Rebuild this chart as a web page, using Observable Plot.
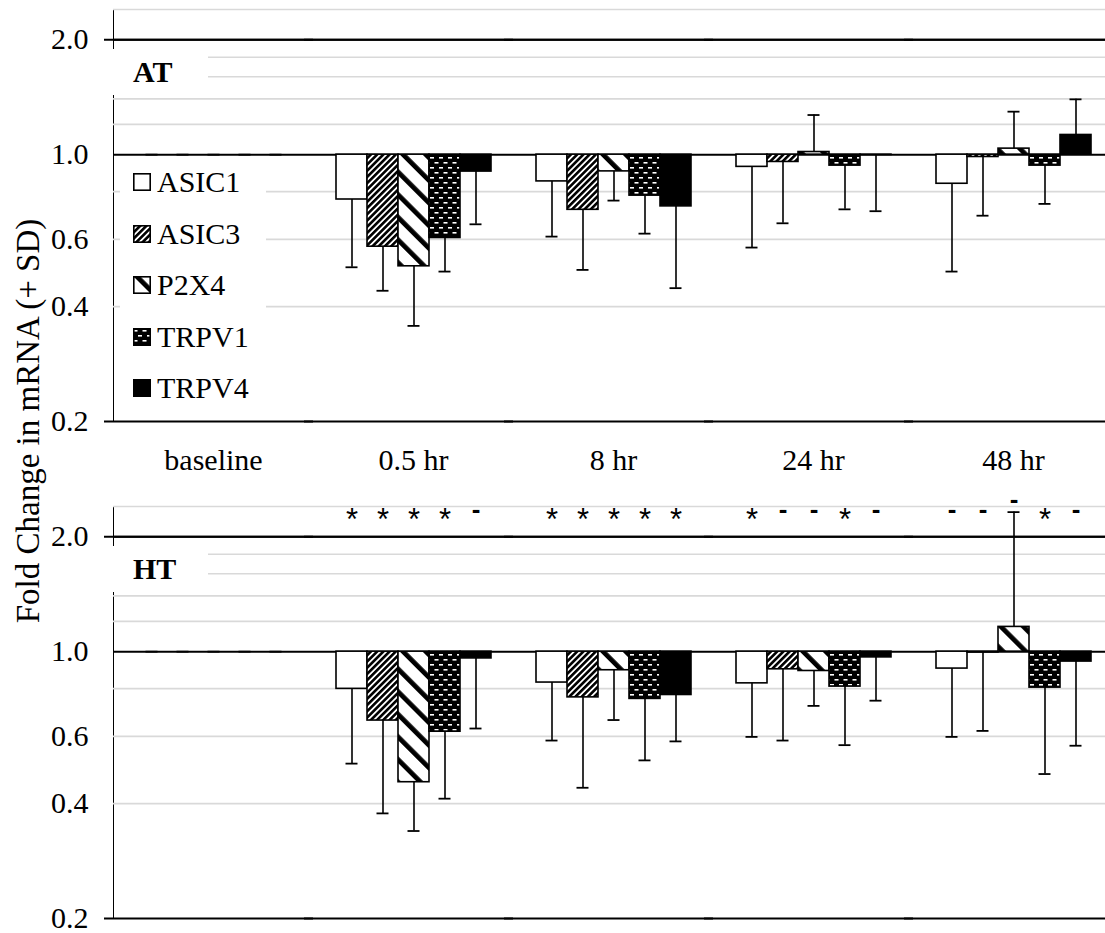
<!DOCTYPE html>
<html><head><meta charset="utf-8">
<script src="https://cdn.jsdelivr.net/npm/d3@7"></script>
<script src="https://cdn.jsdelivr.net/npm/@observablehq/plot@0.6"></script>
<style>
html,body{margin:0;padding:0;background:#fff;overflow:hidden;}
#wrap{position:relative;width:1105px;height:933px;overflow:hidden;font-family:"Liberation Serif","Times New Roman",serif;color:#000;}
.plabel{position:absolute;left:113px;width:95px;height:46px;background:#fff;font-weight:bold;font-size:30px;line-height:46px;padding-left:20px;box-sizing:border-box;}
#legend{position:absolute;left:120px;top:160px;width:146px;height:250px;background:#fff;}
.li{position:absolute;left:13px;height:34px;display:flex;align-items:center;font-size:30px;white-space:nowrap;}
.li svg{margin-right:6px;}
#ytitle{position:absolute;left:28px;top:421px;transform-origin:0 0;transform:rotate(-90deg) translate(-50%,-50%);white-space:nowrap;font-size:33px;line-height:36px;}
</style></head>
<body><div id="wrap"></div>
<script>
// ---------------- data ----------------
const times = ["baseline", "0.5 hr", "8 hr", "24 hr", "48 hr"];
const genes = ["ASIC1", "ASIC3", "P2X4", "TRPV1", "TRPV4"];

// AT panel: mean fold change (rows = times, cols = genes)
const atMean = [
  [1, 1, 1, 1, 1],
  [0.763, 0.574, 0.510, 0.605, 0.903],
  [0.851, 0.717, 0.904, 0.781, 0.732],
  [0.929, 0.957, 1.016, 0.936, 0.998],
  [0.839, 0.986, 1.037, 0.936, 1.126]
];
// AT panel: error bar end (mean +/- SD)
const atErrEnd = [
  [1, 1, 1, 1, 1],
  [0.507, 0.440, 0.356, 0.494, 0.657],
  [0.610, 0.499, 0.758, 0.621, 0.447],
  [0.571, 0.661, 1.270, 0.719, 0.711],
  [0.494, 0.692, 1.296, 0.743, 1.396]
];
// HT panel
const htMean = [
  [1, 1, 1, 1, 1],
  [0.799, 0.660, 0.455, 0.617, 0.960],
  [0.830, 0.759, 0.894, 0.752, 0.770],
  [0.826, 0.899, 0.890, 0.810, 0.966],
  [0.903, 0.995, 1.161, 0.805, 0.942]
];
const htErrEnd = [
  [1, 1, 1, 1, 1],
  [0.509, 0.377, 0.339, 0.412, 0.629],
  [0.585, 0.440, 0.662, 0.519, 0.582],
  [0.598, 0.585, 0.721, 0.569, 0.744],
  [0.598, 0.620, 2.320, 0.478, 0.567]
];
// significance markers above HT panel
const htMarks = [
  ["", "", "", "", ""],
  ["*", "*", "*", "*", "-"],
  ["*", "*", "*", "*", "*"],
  ["*", "-", "-", "*", "-"],
  ["-", "-", "-", "*", "-"]
];
const yTicks = [0.2, 0.4, 0.6, 1.0, 2.0];
const gridValues = [0.4, 0.6, 0.8, 1.2, 1.4, 1.6, 1.8, 2.4];
const axisLines = [1.0, 2.0];
const edgeLines = [0.2, 2.0];
const geneFills = ["white", "url(#pA3)", "url(#pP2)", "url(#pT1)", "black"];
const markerLevel = 2.28;

// ---------------- patterns (global defs) ----------------
const wrap = document.getElementById("wrap");
const defsSvg = d3.create("svg").attr("width", 0).attr("height", 0)
  .style("position", "absolute").style("left", 0).style("top", 0);
const defs = defsSvg.append("defs");
{
  const p = defs.append("pattern").attr("id", "pA3").attr("patternUnits", "userSpaceOnUse")
    .attr("width", 4.4).attr("height", 4.4).attr("patternTransform", "rotate(45)");
  p.append("rect").attr("width", 4.4).attr("height", 4.4).attr("fill", "white");
  p.append("rect").attr("width", 2.6).attr("height", 4.4).attr("fill", "black");
}
{
  const p = defs.append("pattern").attr("id", "pP2").attr("patternUnits", "userSpaceOnUse")
    .attr("width", 16).attr("height", 16).attr("patternTransform", "rotate(-45)");
  p.append("rect").attr("width", 16).attr("height", 16).attr("fill", "white");
  p.append("rect").attr("width", 4.8).attr("height", 16).attr("fill", "black");
}
{
  const p = defs.append("pattern").attr("id", "pT1").attr("patternUnits", "userSpaceOnUse")
    .attr("width", 9).attr("height", 10);
  p.append("rect").attr("width", 9).attr("height", 10).attr("fill", "black");
  p.append("rect").attr("x", 0.5).attr("y", 2).attr("width", 4).attr("height", 1.6).attr("fill", "white");
  p.append("rect").attr("x", 5).attr("y", 7).attr("width", 4).attr("height", 1.6).attr("fill", "white");
}
wrap.appendChild(defsSvg.node());

// ---------------- panels ----------------
function rowsToData(mean, err, marks) {
  const out = [];
  times.forEach((t, i) => genes.forEach((g, j) => out.push({
    time: t, gene: g, value: mean[i][j], err: err[i][j], mark: marks ? marks[i][j] : ""
  })));
  return out;
}

function panel(data, {showX, height, marginBottom, withMarks}) {
  const marks = [
    Plot.ruleY(gridValues, {y: d => d, stroke: "#d9d9d9", strokeWidth: 1.6}),
    Plot.ruleY(edgeLines, {y: d => d, stroke: "black", strokeWidth: 2, insetLeft: -9}),
    Plot.ruleY(axisLines, {y: d => d, stroke: "black", strokeWidth: 2}),
    Plot.barY(data, {fx: "time", x: "gene", y1: 1, y2: "value", fill: "gene", stroke: "black", strokeWidth: 1.6}),
    Plot.ruleX(data, {fx: "time", x: "gene", y1: "value", y2: "err", stroke: "black", strokeWidth: 1.6}),
    Plot.tickY(data, {fx: "time", x: "gene", y: "err", stroke: "black", strokeWidth: 1.8, insetLeft: 9.5, insetRight: 9.5})
  ];
  if (withMarks) {
    const pos = d => d.err > 2 ? d.err * 1.04 : markerLevel;
    marks.push(Plot.text(data.filter(d => d.mark === "*"), {fx: "time", x: "gene", y: pos, text: "mark",
      fontFamily: "'Liberation Sans', Arial, sans-serif", fontSize: 31, dy: 5.4}));
    marks.push(Plot.text(data.filter(d => d.mark === "-"), {fx: "time", x: "gene", y: pos, text: "mark",
      fontFamily: "'Liberation Sans', Arial, sans-serif", fontSize: 26, fontWeight: "bold", dy: -5.8}));
  }
  return Plot.plot({
    width: 1113, height, marginLeft: 113, marginRight: 0, marginTop: 9, marginBottom,
    style: {fontFamily: "'Liberation Serif', 'Times New Roman', serif", fontSize: "30px", color: "black",
      background: "transparent", overflow: "visible", maxWidth: "none"},
    fx: {domain: times, padding: 0, axis: showX ? "bottom" : null, label: null, tickSize: 0, tickPadding: 27},
    x: {domain: genes, paddingInner: 0, paddingOuter: 0.725, axis: null},
    y: {type: "log", domain: [0.2, 2.4], ticks: yTicks, tickFormat: d3.format(".1f"), tickSize: 0,
      tickPadding: 25, line: true, label: null},
    color: {domain: genes, range: geneFills},
    marks
  });
}

const topPanel = panel(rowsToData(atMean, atErrEnd, null), {showX: true, height: 481, marginBottom: 60, withMarks: false});
topPanel.style.position = "absolute"; topPanel.style.left = "0px"; topPanel.style.top = "0px";
wrap.appendChild(topPanel);

const bottomPanel = panel(rowsToData(htMean, htErrEnd, htMarks), {showX: false, height: 436, marginBottom: 15, withMarks: true});
bottomPanel.style.position = "absolute"; bottomPanel.style.left = "0px"; bottomPanel.style.top = "497px";
wrap.appendChild(bottomPanel);

// panel labels
[["AT", 49], ["HT", 546]].forEach(([t, y]) => {
  const d = document.createElement("div");
  d.className = "plabel"; d.style.top = y + "px"; d.textContent = t;
  wrap.appendChild(d);
});

// legend
const legend = document.createElement("div");
legend.id = "legend";
genes.forEach((g, i) => {
  const item = document.createElement("div");
  item.className = "li";
  item.style.top = (5 + i * 51.5) + "px";
  const sw = d3.create("svg").attr("width", 18).attr("height", 18);
  sw.append("rect").attr("x", 0.8).attr("y", 0.8).attr("width", 16.4).attr("height", 16.4)
    .attr("fill", geneFills[i]).attr("stroke", "black").attr("stroke-width", 1.6);
  item.appendChild(sw.node());
  const s = document.createElement("span");
  s.textContent = g;
  item.appendChild(s);
  legend.appendChild(item);
});
wrap.appendChild(legend);

// y title
const yt = document.createElement("div");
yt.id = "ytitle";
yt.textContent = "Fold Change in mRNA (+ SD)";
wrap.appendChild(yt);
</script>
</body></html>
